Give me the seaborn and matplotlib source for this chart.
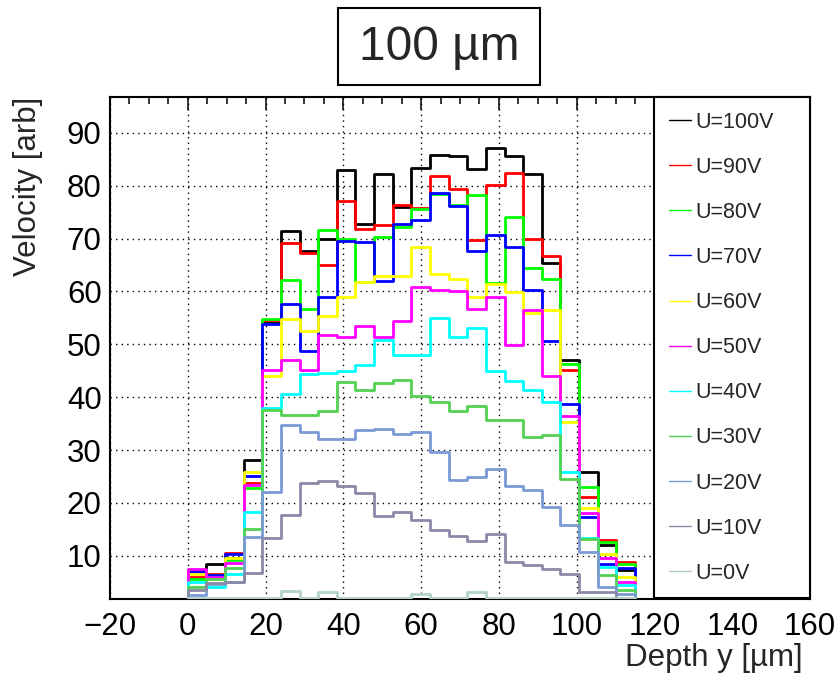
import numpy as np
import pandas as pd
import matplotlib
matplotlib.use("Agg")
import matplotlib.pyplot as plt
from matplotlib.lines import Line2D
from matplotlib.patches import Rectangle
from matplotlib.ticker import MultipleLocator
import seaborn as sns

# ---------------- data ----------------
bin_edges = np.linspace(0, 115, 25)   # 24 bins from 0 to 115 um
labels = ["U=100V", "U=90V", "U=80V", "U=70V", "U=60V", "U=50V",
          "U=40V", "U=30V", "U=20V", "U=10V", "U=0V"]
colors = ["#000000", "#ff0000", "#00ff00", "#0000ff", "#ffff00", "#ff00ff",
          "#00ffff", "#52d152", "#7a9bd6", "#8a8aa8", "#b3d1c6"]

u100 = [7.2, 8.5, 9.5, 28.2, 54.0, 71.5, 67.7, 69.9, 82.9, 72.8, 82.3, 76.0,
        83.4, 85.8, 85.6, 83.1, 87.2, 85.6, 82.3, 65.3, 47.1, 25.8, 12.0, 7.2]
u90 = [5.9, 6.5, 10.6, 23.7, 54.6, 69.1, 67.3, 65.0, 77.1, 71.9, 72.5, 76.4,
       75.8, 81.8, 79.3, 69.8, 80.1, 82.5, 70.0, 66.8, 45.2, 21.1, 13.0, 8.9]
u80 = [5.5, 6.3, 9.2, 22.9, 54.8, 62.2, 56.7, 71.6, 69.9, 61.8, 70.3, 72.2,
       75.7, 78.5, 76.4, 78.2, 61.6, 74.0, 64.5, 62.4, 46.3, 23.0, 12.5, 8.4]
u70 = [7.0, 6.4, 10.3, 25.1, 53.8, 57.7, 48.7, 59.0, 69.6, 69.3, 62.0, 72.8,
       73.6, 78.7, 76.1, 67.6, 70.6, 68.5, 60.3, 50.6, 38.8, 17.4, 8.5, 7.6]
u60 = [6.6, 5.8, 9.5, 25.9, 44.0, 54.7, 52.5, 55.3, 59.0, 61.8, 62.9, 62.9,
       68.4, 63.4, 62.4, 59.0, 61.4, 59.9, 55.9, 56.4, 35.3, 19.1, 10.3, 6.0]
u50 = [7.4, 6.0, 8.6, 23.3, 45.1, 47.1, 45.2, 51.7, 51.3, 53.4, 51.3, 54.5,
       60.9, 60.3, 60.1, 56.6, 59.0, 49.8, 56.4, 44.0, 36.5, 18.1, 9.5, 5.1]
u40 = [5.0, 4.1, 6.5, 18.3, 37.9, 40.6, 44.3, 44.6, 45.0, 46.0, 50.8, 48.0,
       47.9, 55.0, 51.4, 53.1, 44.9, 43.0, 41.4, 39.0, 25.8, 13.3, 7.9, 4.5]
u30 = [4.0, 5.5, 7.6, 15.1, 37.5, 36.6, 36.7, 37.4, 42.9, 41.4, 42.6, 43.3,
       40.2, 39.1, 37.3, 38.3, 35.6, 35.6, 32.5, 32.9, 24.5, 13.2, 6.3, 3.5]
u20 = [2.5, 4.6, 5.1, 13.5, 22.1, 34.7, 33.4, 32.1, 32.1, 33.8, 34.0, 33.1,
       33.4, 29.6, 24.3, 24.9, 26.5, 23.1, 22.4, 19.2, 15.9, 10.7, 4.1, 2.8]
u10 = [3.5, 4.8, 5.0, 6.8, 13.4, 17.7, 23.8, 24.1, 23.1, 21.9, 17.6, 18.3,
       16.7, 14.8, 13.7, 12.8, 14.2, 8.8, 8.2, 7.5, 6.6, 3.2, 3.2, 1.9]
u0 = [2.0, 2.0, 2.0, 2.0, 2.0, 3.4, 2.0, 3.1, 2.0, 2.0, 2.0, 2.0,
      2.7, 2.0, 2.0, 3.2, 2.0, 2.0, 2.0, 2.0, 2.0, 2.0, 2.0, 2.0]
series = [u100, u90, u80, u70, u60, u50, u40, u30, u20, u10, u0]

x_ticks = [-20, 0, 20, 40, 60, 80, 100, 120, 140, 160]
y_ticks = [10, 20, 30, 40, 50, 60, 70, 80, 90]

# ---------------- style ----------------
sns.set_style("white")
plt.rcParams["font.family"] = ["Liberation Sans", "DejaVu Sans"]
plt.rcParams["axes.linewidth"] = 1.5

fig = plt.figure(figsize=(8.36, 6.74), dpi=100)
ax = fig.add_axes([110 / 836, 1 - 598.5 / 674, 700 / 836, (598.5 - 97) / 674])

width = bin_edges[1] - bin_edges[0]
centers = (bin_edges[:-1] + bin_edges[1:]) / 2
# one empty bin on each side so the outline drops down at both ends
ext_edges = [float(bin_edges[0] - width)] + [float(e) for e in bin_edges] + \
            [float(bin_edges[-1] + width)]

rows = []
for lab, vals in zip(labels, series):
    for c, v in zip(centers, vals):
        rows.append({"depth": float(c), "velocity": v, "U": lab})
df = pd.DataFrame(rows)

for lab, col in zip(labels, colors):
    sub = df[df["U"] == lab]
    sns.histplot(data=sub, x="depth", weights="velocity", bins=ext_edges,
                 element="step", fill=False, color=col, linewidth=2.0, ax=ax,
                 zorder=3)

ax.set_xlim(-20, 160)
ax.set_ylim(1.9, 96.8)
ax.set_xticks(x_ticks)
ax.set_yticks(y_ticks)
ax.set_xticklabels(["\u221220" if t < 0 else str(t) for t in x_ticks])
ax.xaxis.set_minor_locator(MultipleLocator(5))
ax.yaxis.set_minor_locator(MultipleLocator(2))
ax.tick_params(axis="both", which="both", direction="in", top=True, right=True,
               colors="black", labelsize=22.5, width=1.1)
ax.tick_params(axis="x", which="major", length=9.5, pad=10)
ax.tick_params(axis="x", which="minor", length=5)
ax.tick_params(axis="y", which="major", length=13, pad=6)
ax.tick_params(axis="y", which="minor", length=6.5)

ax.grid(True, which="major", color="black", linestyle=(0, (1, 3)), linewidth=1.0)
ax.set_axisbelow(True)
for s in ax.spines.values():
    s.set_color("black")
    s.set_linewidth(1.5)

ax.set_xlabel("Depth y [\u00b5m]", fontsize=22.5, loc="right")
ax.xaxis.set_label_coords(0.99, -0.088)
ax.set_ylabel("Velocity [arb]", fontsize=22.5, loc="top")
ax.yaxis.set_label_coords(-0.095, 1.0)

handles = [Line2D([0], [0], color=c, lw=1.0) for c in colors]
x0 = (120 - (-20)) / 180
leg = ax.legend(handles, labels, loc="upper left", bbox_to_anchor=(x0, 0, 1 - x0, 1),
                mode="expand", borderaxespad=0, frameon=True, fancybox=False,
                edgecolor="black", framealpha=1, fontsize=15.5,
                handlelength=1.0, handletextpad=0.2, labelspacing=1.12,
                borderpad=0.68)
leg.get_frame().set_linewidth(1.5)
leg.set_zorder(10)

# title box
fig.patches.append(Rectangle((338 / 836, 1 - 85 / 674), 202 / 836, 77 / 674,
                             transform=fig.transFigure, fill=True, facecolor="white",
                             edgecolor="black", linewidth=1.5))
fig.text(439 / 836, 1 - 47 / 674, "100 \u00b5m", fontsize=34.5, ha="center", va="center")

fig.savefig("out.png", dpi=100)
